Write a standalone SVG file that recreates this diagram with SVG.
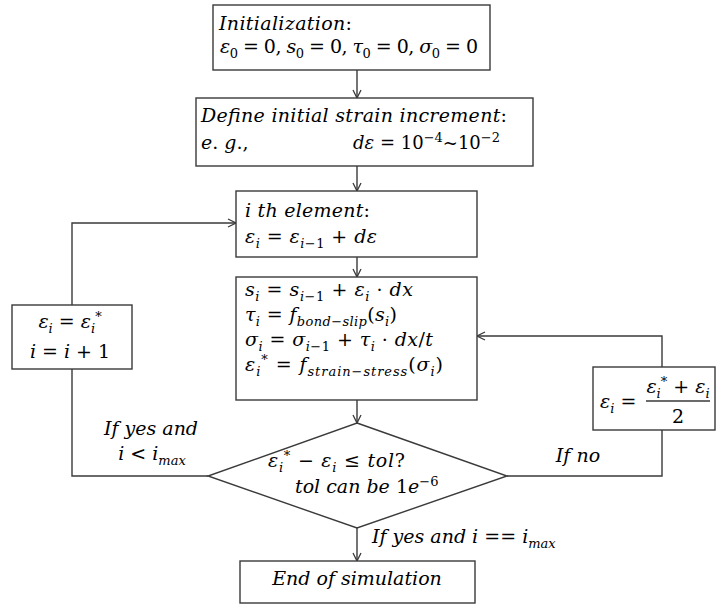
<svg xmlns="http://www.w3.org/2000/svg" width="720" height="607" viewBox="0 0 720 607">
<defs>
<style>
.box{fill:#fff;stroke:#3a3a3a;stroke-width:1.4}
.ln{fill:none;stroke:#3a3a3a;stroke-width:1.4}
.m{font-family:"DejaVu Serif","Liberation Serif",serif;font-size:19px;fill:#000}
.it{font-style:italic}
.sb{font-size:13px}
</style>
<marker id="ar" markerWidth="10" markerHeight="10" refX="9" refY="5" orient="auto" markerUnits="userSpaceOnUse">
<path d="M1,1 L9,5 L1,9" fill="none" stroke="#3a3a3a" stroke-width="1.3"/>
</marker>
</defs>
<rect width="720" height="607" fill="#fff"/>

<g id="connectors">
<line class="ln" x1="357" y1="70" x2="357" y2="98" marker-end="url(#ar)"/>
<line class="ln" x1="357" y1="166" x2="357" y2="191" marker-end="url(#ar)"/>
<line class="ln" x1="357" y1="257" x2="357" y2="277" marker-end="url(#ar)"/>
<line class="ln" x1="357" y1="400" x2="357" y2="423" marker-end="url(#ar)"/>
<line class="ln" x1="357" y1="528" x2="357" y2="561" marker-end="url(#ar)"/>
<polyline class="ln" points="208,476 72,476 72,369"/>
<polyline class="ln" points="72,305 72,223 236,223" marker-end="url(#ar)"/>
<polyline class="ln" points="507,476 662,476 662,430"/>
<polyline class="ln" points="662,367 662,336 477,336" marker-end="url(#ar)"/>
</g>

<g id="init">
<rect class="box" x="213" y="5" width="277" height="65"/>
<text class="m" x="219" y="30" textLength="133" lengthAdjust="spacing"><tspan class="it">Initialization</tspan>:</text>
<text class="m" x="220" y="53" textLength="258" lengthAdjust="spacing"><tspan class="it">ε</tspan><tspan class="sb" dy="5">0</tspan><tspan dy="-5"> = 0, </tspan><tspan class="it">s</tspan><tspan class="sb" dy="5">0</tspan><tspan dy="-5"> = 0, </tspan><tspan class="it">τ</tspan><tspan class="sb" dy="5">0</tspan><tspan dy="-5"> = 0, </tspan><tspan class="it">σ</tspan><tspan class="sb" dy="5">0</tspan><tspan dy="-5"> = 0</tspan></text>
</g>

<g id="define">
<rect class="box" x="196" y="98" width="337" height="68"/>
<text class="m" x="201" y="122" textLength="306" lengthAdjust="spacing"><tspan class="it">Define initial strain increment</tspan>:</text>
<text class="m" x="201" y="149"><tspan class="it">e</tspan>. <tspan class="it">g</tspan>.,</text>
<text class="m" x="353" y="149" style="font-size:18px"><tspan class="it">dε</tspan> = 10<tspan class="sb" dy="-7">−4</tspan><tspan dy="7">~10</tspan><tspan class="sb" dy="-7">−2</tspan></text>
</g>

<g id="element">
<rect class="box" x="236" y="191" width="241" height="66"/>
<text class="m" x="245" y="217" textLength="125" lengthAdjust="spacing"><tspan class="it">i th element</tspan>:</text>
<text class="m" x="245" y="243" textLength="132" lengthAdjust="spacing"><tspan class="it">ε</tspan><tspan class="sb it" dy="5">i</tspan><tspan dy="-5"> = </tspan><tspan class="it">ε</tspan><tspan class="sb" dy="5"><tspan class="it">i</tspan>−1</tspan><tspan dy="-5"> + </tspan><tspan class="it">dε</tspan></text>
</g>

<g id="update">
<rect class="box" x="236" y="277" width="241" height="123"/>
<text class="m" x="245" y="296" textLength="168" lengthAdjust="spacing"><tspan class="it">s</tspan><tspan class="sb it" dy="5">i</tspan><tspan dy="-5"> = </tspan><tspan class="it">s</tspan><tspan class="sb" dy="5"><tspan class="it">i</tspan>−1</tspan><tspan dy="-5"> + </tspan><tspan class="it">ε</tspan><tspan class="sb it" dy="5">i</tspan><tspan dy="-5"> · </tspan><tspan class="it">dx</tspan></text>
<text class="m" x="245" y="321" textLength="152" lengthAdjust="spacing"><tspan class="it">τ</tspan><tspan class="sb it" dy="5">i</tspan><tspan dy="-5"> = </tspan><tspan class="it">f</tspan><tspan class="sb" dy="5"><tspan class="it">bond</tspan>−<tspan class="it">slip</tspan></tspan><tspan dy="-5">(</tspan><tspan class="it">s</tspan><tspan class="sb it" dy="5">i</tspan><tspan dy="-5">)</tspan></text>
<text class="m" x="245" y="346" textLength="188" lengthAdjust="spacing"><tspan class="it">σ</tspan><tspan class="sb it" dy="5">i</tspan><tspan dy="-5"> = </tspan><tspan class="it">σ</tspan><tspan class="sb" dy="5"><tspan class="it">i</tspan>−1</tspan><tspan dy="-5"> + </tspan><tspan class="it">τ</tspan><tspan class="sb it" dy="5">i</tspan><tspan dy="-5"> · </tspan><tspan class="it">dx</tspan>/<tspan class="it">t</tspan></text>
<text class="m" x="245" y="371" textLength="198" lengthAdjust="spacing"><tspan class="it">ε</tspan><tspan class="sb it" dy="5">i</tspan><tspan class="sb" dy="-12">*</tspan><tspan dy="7"> = </tspan><tspan class="it">f</tspan><tspan class="sb" dy="5"><tspan class="it">strain</tspan>−<tspan class="it">stress</tspan></tspan><tspan dy="-5">(</tspan><tspan class="it">σ</tspan><tspan class="sb it" dy="5">i</tspan><tspan dy="-5">)</tspan></text>
</g>

<g id="next">
<rect class="box" x="12" y="305" width="120" height="64"/>
<text class="m" x="70" y="328" text-anchor="middle"><tspan class="it">ε</tspan><tspan class="sb it" dy="5">i</tspan><tspan dy="-5"> = </tspan><tspan class="it">ε</tspan><tspan class="sb it" dy="5">i</tspan><tspan class="sb" dy="-12">*</tspan></text>
<text class="m" x="70" y="358" text-anchor="middle"><tspan class="it">i</tspan> = <tspan class="it">i</tspan> + 1</text>
</g>

<g id="average">
<rect class="box" x="593" y="367" width="122" height="63"/>
<text class="m" x="600" y="408"><tspan class="it">ε</tspan><tspan class="sb it" dy="5">i</tspan><tspan dy="-5"> =</tspan></text>
<line class="ln" x1="646" y1="401" x2="710" y2="401" stroke-width="1.6"/>
<text class="m" x="678" y="393" text-anchor="middle"><tspan class="it">ε</tspan><tspan class="sb it" dy="5">i</tspan><tspan class="sb" dy="-12">*</tspan><tspan dy="7"> + </tspan><tspan class="it">ε</tspan><tspan class="sb it" dy="5">i</tspan></text>
<text class="m" x="678" y="423" text-anchor="middle">2</text>
</g>

<g id="check">
<polygon class="box" points="357,423 507,476 357,528 208,476"/>
<text class="m" x="268" y="467" textLength="137" lengthAdjust="spacing"><tspan class="it">ε</tspan><tspan class="sb it" dy="5">i</tspan><tspan class="sb" dy="-12">*</tspan><tspan dy="7"> − </tspan><tspan class="it">ε</tspan><tspan class="sb it" dy="5">i</tspan><tspan dy="-5"> ≤ </tspan><tspan class="it">tol</tspan>?</text>
<text class="m" x="295" y="493"><tspan class="it">tol can be</tspan> 1<tspan class="it">e</tspan><tspan class="sb" dy="-7">−6</tspan></text>
</g>

<g id="labels">
<text class="m it" x="151" y="435" text-anchor="middle">If yes and</text>
<text class="m" x="152" y="460" text-anchor="middle"><tspan class="it">i</tspan> &lt; <tspan class="it">i</tspan><tspan class="sb it" dy="5">max</tspan></text>
<text class="m it" x="578" y="462" text-anchor="middle">If no</text>
<text class="m" x="372" y="543"><tspan class="it">If yes and i</tspan> == <tspan class="it">i</tspan><tspan class="sb it" dy="5">max</tspan></text>
</g>

<g id="end">
<rect class="box" x="240" y="561" width="235" height="42"/>
<text class="m it" x="357" y="585" text-anchor="middle">End of simulation</text>
</g>
</svg>
